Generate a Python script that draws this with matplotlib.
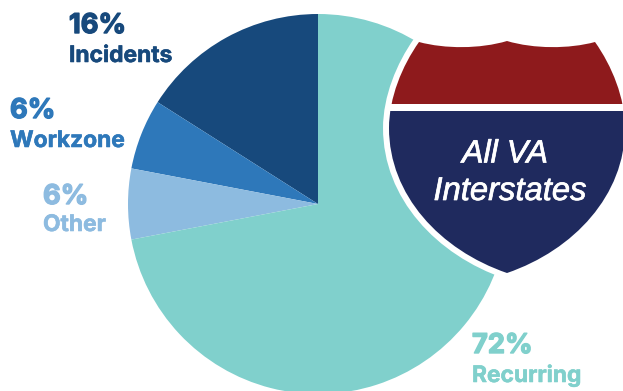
import matplotlib
matplotlib.use('Agg')
import matplotlib.pyplot as plt
import matplotlib.patheffects as pe
from matplotlib.patches import PathPatch, Rectangle
from matplotlib.path import Path

categories = ['Incidents', 'Workzone', 'Other', 'Recurring']
shares = [16, 6, 6, 72]
colors = ['#17497C', '#2E78BA', '#8DBBE0', '#80D0CC']
shield_title = ['All VA', 'Interstates']

W, H = 623, 391


def fy(y):
    # everything below is laid out from the top of the canvas
    return H - y


fig = plt.figure(figsize=(W / 100, H / 100), dpi=100)
ax = fig.add_axes([0, 0, 1, 1])

ax.pie(shares, colors=colors, startangle=90, counterclock=True,
       center=(318, fy(204)), radius=190)
ax.set_xlim(0, W)
ax.set_ylim(0, H)
ax.set_aspect('equal')
ax.axis('off')

# interstate shield outline
M, C = Path.MOVETO, Path.CURVE4
outline = [
    (M, (419, 42)),
    (C, (445, 49)), (C, (480, 49)), (C, (507, 41)),
    (C, (534, 49)), (C, (569, 49)), (C, (595, 42)),
    (C, (612, 66)), (C, (625, 98)), (C, (625, 128)),
    (C, (625, 195)), (C, (574, 250)), (C, (507, 273)),
    (C, (440, 250)), (C, (389, 195)), (C, (389, 128)),
    (C, (389, 98)), (C, (402, 66)), (C, (419, 42)),
]
codes = [c for c, p in outline]
verts = [(p[0], fy(p[1])) for c, p in outline]
shield = Path(verts, codes)

ax.add_patch(PathPatch(shield, facecolor='white', edgecolor='white',
                       linewidth=8.6, joinstyle='round', zorder=3))

red = PathPatch(shield, facecolor='#8E1A1C', edgecolor='none', zorder=4)
ax.add_patch(red)
red.set_clip_path(Rectangle((0, fy(103.5)), W, 103.5, transform=ax.transData))

blue = PathPatch(shield, facecolor='#1F2A5E', edgecolor='none', zorder=4)
ax.add_patch(blue)
blue.set_clip_path(Rectangle((0, 0), W, fy(110.5), transform=ax.transData))

thick = [pe.withStroke(linewidth=0.5, foreground='white')]
ax.text(505, fy(162.5), shield_title[0], color='white', fontsize=23.2, style='italic',
        family='Liberation Sans', ha='center', va='baseline', zorder=5, path_effects=thick)
ax.text(510, fy(200), shield_title[1], color='white', fontsize=23.6, style='italic',
        family='Liberation Sans', ha='center', va='baseline', zorder=5, path_effects=thick)

# percent and name labels, x / baselines per category
label_x = [69, 10, 43, 472]
pct_base = [33, 118, 204, 353]
name_base = [62, 147, 231, 382]
for name, val, col, x, yp, yn in zip(categories, shares, colors, label_x, pct_base, name_base):
    ax.text(x, fy(yp), f'{val}%', color=col, fontsize=19.6, fontweight='bold',
            family='Inter', va='baseline', zorder=5,
            path_effects=[pe.withStroke(linewidth=1.0, foreground=col)])
    ax.text(x, fy(yn), name, color=col, fontsize=16.4, fontweight='bold',
            family='Inter', va='baseline', zorder=5,
            path_effects=[pe.withStroke(linewidth=0.4, foreground=col)])

fig.savefig('out.png', dpi=100)
